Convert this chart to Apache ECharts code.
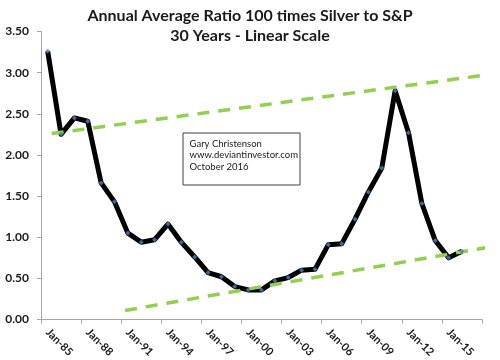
<!DOCTYPE html>
<html>
<head>
<meta charset="utf-8">
<script src="https://cdn.jsdelivr.net/npm/echarts@6/dist/echarts.min.js"></script>
<style>
html,body{margin:0;padding:0;background:#fff;}
#chart{width:500px;height:360px;}
</style>
</head>
<body>
<div id="chart"></div>
<script>
// Categories (yearly, Jan of each year) — last slot is empty space
const categories = ["Jan-85","Jan-86","Jan-87","Jan-88","Jan-89","Jan-90","Jan-91","Jan-92","Jan-93","Jan-94",
  "Jan-95","Jan-96","Jan-97","Jan-98","Jan-99","Jan-00","Jan-01","Jan-02","Jan-03","Jan-04",
  "Jan-05","Jan-06","Jan-07","Jan-08","Jan-09","Jan-10","Jan-11","Jan-12","Jan-13","Jan-14",
  "Jan-15","Jan-16","Jan-17"];
// Annual average ratio: 100 x Silver / S&P
const ratioValues = [3.26,2.25,2.45,2.41,1.66,1.43,1.05,0.94,0.97,1.16,
  0.94,0.76,0.57,0.52,0.40,0.36,0.36,0.47,0.51,0.60,
  0.61,0.91,0.92,1.22,1.55,1.84,2.78,2.27,1.41,0.96,
  0.75,0.83];
// Hand-drawn trend channel lines: [position in category units, value]
const upperTrend = [[0.80,2.26],[34.12,2.99]];
const lowerTrend = [[6.29,0.11],[34.25,0.90]];
const yTicks = {min:0, max:3.5, interval:0.5};

const FONT = "Lato";
const chart = echarts.init(document.getElementById('chart'), null, {renderer:'canvas'});
const trendStyle = {color:'#92d050', width:3.5, type:[12,9], cap:'butt'};
chart.setOption({
  animation:false,
  backgroundColor:'#ffffff',
  title:{
    text:'Annual Average Ratio 100 times Silver to S&P\n30 Years - Linear Scale',
    left:'center', top:1,
    textStyle:{fontFamily:FONT, fontSize:16, fontWeight:'bold', color:'#1a1a1a', lineHeight:20}
  },
  grid:{left:41, right:18, top:31.5, bottom:39.5, containLabel:false},
  xAxis:[{
    type:'category', data:categories, boundaryGap:true,
    axisLine:{lineStyle:{color:'#a6a6a6', width:1}},
    axisTick:{show:true, interval:2, length:4, lineStyle:{color:'#a6a6a6'}},
    axisLabel:{interval:2, rotate:-45, margin:11, fontFamily:FONT, fontSize:11, fontWeight:'bold', color:'#1a1a1a'},
    splitLine:{show:false}
  },{
    type:'value', min:0, max:33, show:false
  }],
  yAxis:{
    type:'value', min:yTicks.min, max:yTicks.max, interval:yTicks.interval,
    axisLine:{show:true, lineStyle:{color:'#a6a6a6', width:1}},
    axisTick:{show:true, length:4, lineStyle:{color:'#a6a6a6'}},
    axisLabel:{formatter:v=>v.toFixed(2), margin:12, fontFamily:FONT, fontSize:12, fontWeight:'bold', color:'#1a1a1a'},
    splitLine:{show:false}
  },
  series:[
    {type:'line', name:'ratio', data:ratioValues, xAxisIndex:0, symbol:'none',
     lineStyle:{color:'#000000', width:5, join:'round'}, z:2},
    {type:'line', name:'upper', data:upperTrend, xAxisIndex:1, symbol:'none', clip:false,
     lineStyle:trendStyle, z:3},
    {type:'line', name:'lower', data:lowerTrend, xAxisIndex:1, symbol:'none', clip:false,
     lineStyle:trendStyle, z:3},
    {type:'scatter', name:'markers', data:ratioValues, xAxisIndex:0, symbol:'diamond', symbolSize:5,
     itemStyle:{color:'#4f81bd'}, z:4}
  ],
  graphic:[{
    type:'group', left:182.5, top:132.5,
    children:[
      {type:'rect', shape:{x:0,y:0,width:117,height:52}, style:{fill:'#ffffff', stroke:'#404040', lineWidth:1}},
      {type:'text', x:6.5, y:5, style:{text:'Gary Christenson\nwww.deviantinvestor.com\nOctober 2016',
        font:'9.5px Lato', lineHeight:11.5, fill:'#1a1a1a'}}
    ]
  }]
});
</script>
</body>
</html>
